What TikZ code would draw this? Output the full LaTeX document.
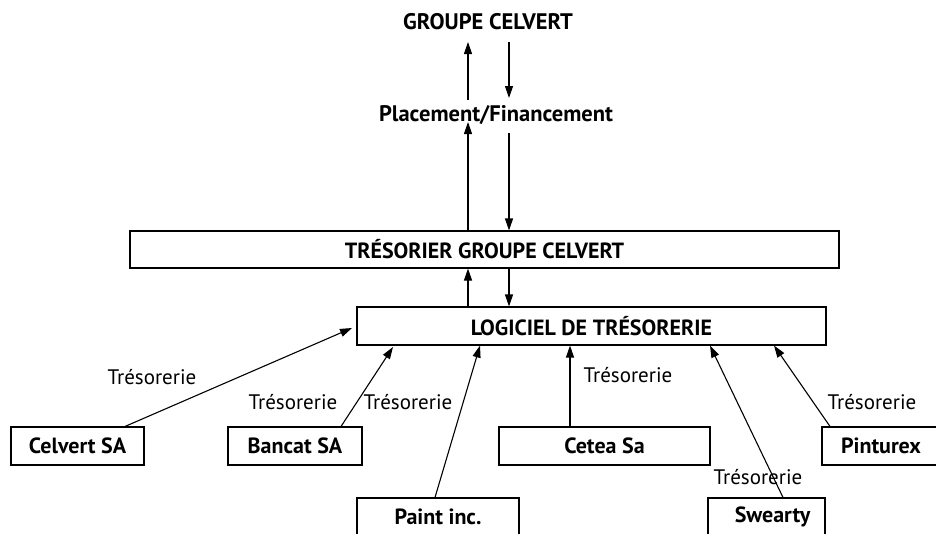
\documentclass[tikz,border=0pt]{standalone}
\usepackage{fontspec}
\setmainfont{PT Sans}
\usetikzlibrary{arrows.meta,calc}
\begin{document}
\begin{tikzpicture}[x=1pt,y=-1pt,
  box/.style={draw,line width=1.1pt,rectangle,inner sep=0pt,font=\fontsize{22}{24}\selectfont\bfseries},
  lbl/.style={font=\fontsize{21}{23}\selectfont,inner sep=0pt},
  head/.style={font=\fontsize{22.5}{24}\selectfont\bfseries,inner sep=0pt},
  arr/.style={line width=1.1pt,-{Triangle[length=12pt,width=8pt]}}]
\useasboundingbox (0,0) rectangle (936,533);
\fill[white] (0,0) rectangle (936,533);

% top level and treasury boxes
\node[head] (grp) at (488,22) {GROUPE CELVERT};
\node[head] (pf) at (496,115) {Placement/Financement};
\node[box,minimum width=709pt,minimum height=37pt] (tres) at (484.5,249.5) {TRÉSORIER GROUPE CELVERT};
\node[box,minimum width=469pt,minimum height=38pt] (log) at (591.5,326) {LOGICIEL DE TRÉSORERIE};

% subsidiaries
\node[box,minimum width=133pt,minimum height=38pt] (celvert) at (77.5,446) {Celvert SA};
\node[box,minimum width=134pt,minimum height=38pt] (bancat) at (295,446) {Bancat SA};
\node[box,minimum width=211pt,minimum height=38pt] (cetea) at (604.5,446) {Cetea Sa};
\node[box,minimum width=118pt,minimum height=38pt] (pinturex) at (881,446) {Pinturex};
\node[box,minimum width=162pt,minimum height=37pt] (paint) at (438,516.5) {Paint inc.};
\node[box,minimum width=117pt,minimum height=37pt,text width=117pt,align=center] (swearty) at (766.5,516.5) {\hspace*{12pt}Swearty};

% arrow end points
\coordinate (upA) at (468,122);
\coordinate (upB) at (468,100);
\coordinate (upC) at (468,42);
\coordinate (dnA) at (509,42);
\coordinate (dnB) at (509,98);
\coordinate (dnC) at (509,133);
\coordinate (celT) at (352,328);
\coordinate (banT) at (393,347);

% flows with the group
\draw[arr] (tres.north -| upA) -- (upA);
\draw[arr] (upB) -- (upC);
\draw[arr] (dnA) -- (dnB);
\draw[arr] (dnC) -- (tres.north -| dnC);
\draw[arr] (log.north -| upA) -- (tres.south -| upA);
\draw[arr] (tres.south -| dnA) -- (log.north -| dnA);

% subsidiaries reporting to the software
\draw[arr] (celvert.north -| 125,0) -- (celT);
\draw[arr] (bancat.north -| 341,0) -- (banT);
\draw[arr] (paint.north -| 435,0) -- (log.south -| 480,0);
\draw[arr] (cetea.north -| 570,0) -- (log.south -| 570,0);
\draw[arr] (swearty.north -| 783,0) -- (log.south -| 710,0);
\draw[arr] (pinturex.north -| 830,0) -- (log.south -| 774,0);

% labels
\node[lbl] (t1) at (152,377) {Trésorerie};
\node[lbl] (t2) at (293,402) {Trésorerie};
\node[lbl] (t3) at (408,402) {Trésorerie};
\node[lbl] (t4) at (628,375) {Trésorerie};
\node[lbl] (t5) at (872,402) {Trésorerie};
\node[lbl] (t6) at (758,477) {Trésorerie};
\end{tikzpicture}
\end{document}
